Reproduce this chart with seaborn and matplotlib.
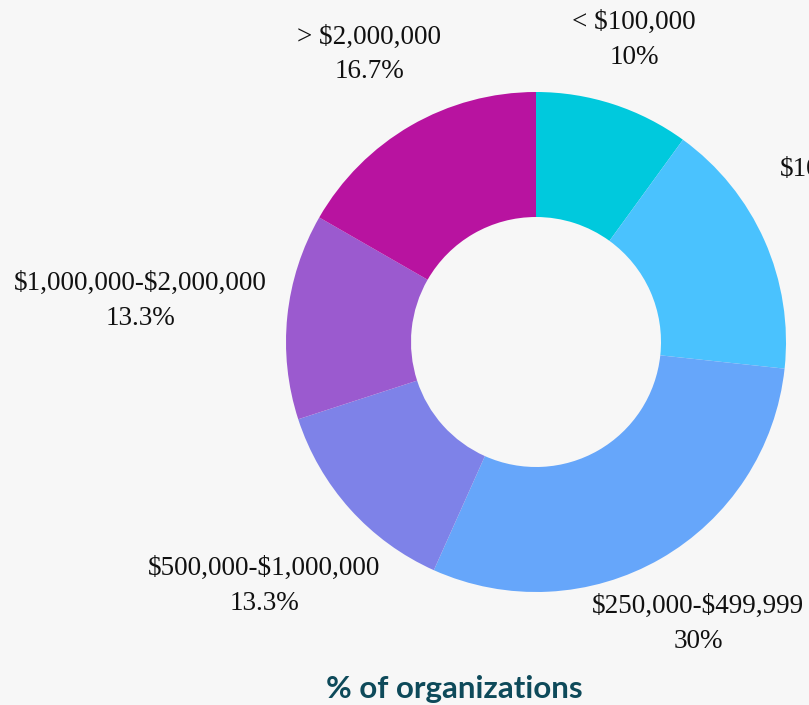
import numpy as np
import matplotlib.pyplot as plt
import seaborn as sns

categories = ["< $100,000", "$100,000-$249,999", "$250,000-$499,999",
              "$500,000-$1,000,000", "$1,000,000-$2,000,000", "> $2,000,000"]
shares = [10, 16.7, 30, 13.3, 13.3, 16.7]
colors = ["#00C9DD", "#4AC2FE", "#66A6FA", "#7E82E8", "#9B5ACF", "#B813A0"]

# how far out each label sits (in units of the outer radius)
label_dist = [1.27, 1.53, 1.30, 1.46, 1.59, 1.33]

sns.set_theme(style="white")
plt.rcParams["font.family"] = ["Liberation Serif", "DejaVu Serif"]
plt.rcParams["text.parse_math"] = False

W, H = 809, 705
cx, cy, R = 536, 342, 250
fig = plt.figure(figsize=(W / 100, H / 100), dpi=100, facecolor="#F7F7F7")
ax = fig.add_axes([0, 0, 1, 1])
ax.set_facecolor("#F7F7F7")

wedges, _ = ax.pie(shares, colors=sns.color_palette(colors), startangle=90,
                   counterclock=False, radius=1,
                   wedgeprops=dict(width=0.5, edgecolor="none"))

for w, name, v, d in zip(wedges, categories, shares, label_dist):
    ang = np.deg2rad((w.theta1 + w.theta2) / 2)
    ax.text(d * np.cos(ang), d * np.sin(ang), f"{name}\n{v:g}%",
            ha="center", va="center", multialignment="center",
            fontsize=19.5, linespacing=1.5, color="#111111")

ax.text((454 - cx) / R, (cy - 689) / R, "% of organizations", ha="center",
        va="center", fontsize=22.5, fontweight="bold", color="#0E4A5A",
        family=["Lato", "DejaVu Sans"])

ax.set_xlim(-cx / R, (W - cx) / R)
ax.set_ylim(-(H - cy) / R, cy / R)
ax.set_aspect("equal")
ax.axis("off")

fig.savefig("out.png", dpi=100, facecolor=fig.get_facecolor())
